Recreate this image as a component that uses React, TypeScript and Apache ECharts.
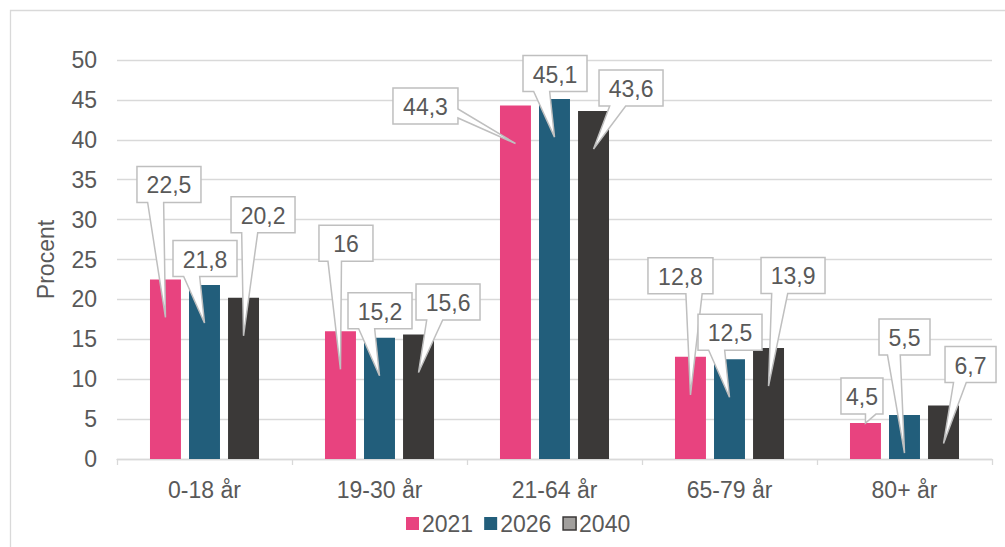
import React, { useEffect, useRef } from 'react';
import * as echarts from 'echarts';

const categories = ['0-18 år', '19-30 år', '21-64 år', '65-79 år', '80+ år'];
const seriesNames = ['2021', '2026', '2040'];
const values2021 = [22.5, 16, 44.3, 12.8, 4.5];
const values2026 = [21.8, 15.2, 45.1, 12.5, 5.5];
const values2040 = [20.2, 15.6, 43.6, 13.9, 6.7];
const yMin = 0;
const yMax = 50;
const yInterval = 5;
const axisName = 'Procent';

const allValues = [values2021, values2026, values2040];

// styling
const COLORS = ['#E8437F', '#225E7B', '#3B3938'];
const TEXT_COLOR = '#595959';
const GRID_COLOR = '#d9d9d9';
const FONT = '"Liberation Sans", Arial, sans-serif';
const FS = 23;
const BAR_WIDTH_RATIO = 0.177;
const BAR_GAP_RATIO = 0.26;

// callout layout per series, per category: [dx, dy, boxWidth, tipDrop] (pixels, relative to bar top centre)
const CALLOUT_LAYOUT = [
  [[3.5, -95, 64, 38], [5.5, -88, 54, 38], [-90, 0.5, 65, 38], [-10, -81, 65, 38], [-3.5, -27, 42, 0]],
  [[0.5, -26.5, 64, 38], [0.5, -27, 64, 38], [0.5, -25.6, 64, 38], [0.5, -27, 64, 38], [0, -78, 51, 38]],
  [[19.5, -83, 64, 38], [29.5, -32.5, 64, 38], [37.5, -23, 64, 38], [24.5, -72.6, 64, 38], [27, -41, 51, 38]],
];
const BOX_H = 36;

const fmt = (v: number) => String(v).replace('.', ',');

export default function App() {
  const ref = useRef<HTMLDivElement>(null);
  useEffect(() => {
    if (!ref.current) return;
    const chart = echarts.init(ref.current, undefined, { renderer: 'svg' });

    const calloutData: number[][] = [];
    allValues.forEach((vals, s) => vals.forEach((v, c) => calloutData.push([c, v, s])));

    const renderItem = (params: any, api: any) => {
      const cat = api.value(0);
      const val = api.value(1);
      const s = api.value(2);
      const p = api.coord([cat, val]);
      const band = api.size([1, 0])[0];
      const bw = band * BAR_WIDTH_RATIO;
      const gap = bw * BAR_GAP_RATIO;
      const bx = p[0] + (s - 1) * (bw + gap);
      const by = p[1];
      const [dx, dy, w, drop] = CALLOUT_LAYOUT[s][cat];
      const h = BOX_H;
      const cx = bx + dx;
      const cy = by + dy;
      const tipX = bx;
      const tipY = by + drop;
      const l = cx - w / 2, r = cx + w / 2, t = cy - h / 2, b = cy + h / 2;
      const dxPos = tipX - cx;
      const dyPos = tipY - cy;
      const horiz = Math.abs(dxPos * h) > Math.abs(dyPos * w);
      const inside = tipX >= l && tipX <= r && tipY >= t && tipY <= b;
      const x1 = l + (w * (dxPos > 0 ? 7 : 2)) / 12;
      const x2 = l + (w * (dxPos > 0 ? 10 : 5)) / 12;
      const y1 = t + (h * (dyPos > 0 ? 7 : 2)) / 12;
      const y2 = t + (h * (dyPos > 0 ? 10 : 5)) / 12;
      let pts: number[][];
      if (inside) {
        pts = [[l, t], [r, t], [r, b], [l, b]];
      } else if (!horiz && dyPos > 0) {
        pts = [[l, t], [r, t], [r, b], [x2, b], [tipX, tipY], [x1, b], [l, b]];
      } else if (!horiz) {
        pts = [[l, t], [x1, t], [tipX, tipY], [x2, t], [r, t], [r, b], [l, b]];
      } else if (dxPos > 0) {
        pts = [[l, t], [r, t], [r, y1], [tipX, tipY], [r, y2], [r, b], [l, b]];
      } else {
        pts = [[l, t], [r, t], [r, b], [l, b], [l, y2], [tipX, tipY], [l, y1]];
      }
      return {
        type: 'group',
        children: [
          {
            type: 'polygon',
            shape: { points: pts },
            style: { fill: '#ffffff', stroke: '#bfbfbf', lineWidth: 1.5 },
          },
          {
            type: 'text',
            x: cx,
            y: cy + 1,
            style: {
              text: fmt(val),
              fill: TEXT_COLOR,
              fontSize: FS,
              fontFamily: FONT,
              align: 'center',
              verticalAlign: 'middle',
            },
          },
        ],
      };
    };

    const option: any = {
      animation: false,
      backgroundColor: '#ffffff',
      textStyle: { fontFamily: FONT },
      graphic: [
        {
          type: 'rect',
          shape: { x: 10.5, y: 10.5, width: 1200, height: 1000 },
          style: { fill: 'none', stroke: GRID_COLOR, lineWidth: 1.3 },
          silent: true,
          z: -10,
        },
      ],
      grid: { left: 117, right: 13, top: 60, bottom: 88 },
      legend: {
        left: 401,
        top: 507,
        itemWidth: 13,
        itemHeight: 13,
        itemGap: 11,
        icon: 'rect',
        textStyle: { fontSize: FS, color: TEXT_COLOR, fontFamily: FONT, padding: [0, 0, 0, -2] },
        data: [
          { name: seriesNames[0] },
          { name: seriesNames[1] },
          { name: seriesNames[2], itemStyle: { color: '#a19f9d', borderColor: '#3B3938', borderWidth: 1.5 } },
        ],
      },
      xAxis: {
        type: 'category',
        data: categories,
        axisLine: { lineStyle: { color: GRID_COLOR, width: 1.3 } },
        axisTick: { show: true, length: 6, lineStyle: { color: GRID_COLOR, width: 1.3 } },
        axisLabel: { fontSize: FS, color: TEXT_COLOR, margin: 19, fontFamily: FONT },
      },
      yAxis: {
        type: 'value',
        min: yMin,
        max: yMax,
        interval: yInterval,
        name: axisName,
        nameLocation: 'middle',
        nameGap: 60,
        nameTextStyle: { fontSize: FS, color: TEXT_COLOR, fontFamily: FONT },
        axisLine: { show: false },
        axisTick: { show: false },
        axisLabel: { fontSize: FS, color: TEXT_COLOR, margin: 20, fontFamily: FONT },
        splitLine: { lineStyle: { color: GRID_COLOR, width: 1.3 } },
      },
      series: [
        ...allValues.map((vals, s) => ({
          type: 'bar',
          name: seriesNames[s],
          data: vals,
          barWidth: `${BAR_WIDTH_RATIO * 100}%`,
          barGap: `${BAR_GAP_RATIO * 100}%`,
          itemStyle: { color: COLORS[s] },
        })),
        {
          type: 'custom',
          name: 'callouts',
          data: calloutData,
          encode: { x: 0, y: 1 },
          renderItem,
          clip: false,
          silent: true,
          z: 10,
        },
      ],
    };
    chart.setOption(option);
    return () => chart.dispose();
  }, []);
  return (
    <div
      ref={ref}
      style={{ position: 'absolute', left: 0, top: 0, width: 1005, height: 547 }}
    />
  );
}
